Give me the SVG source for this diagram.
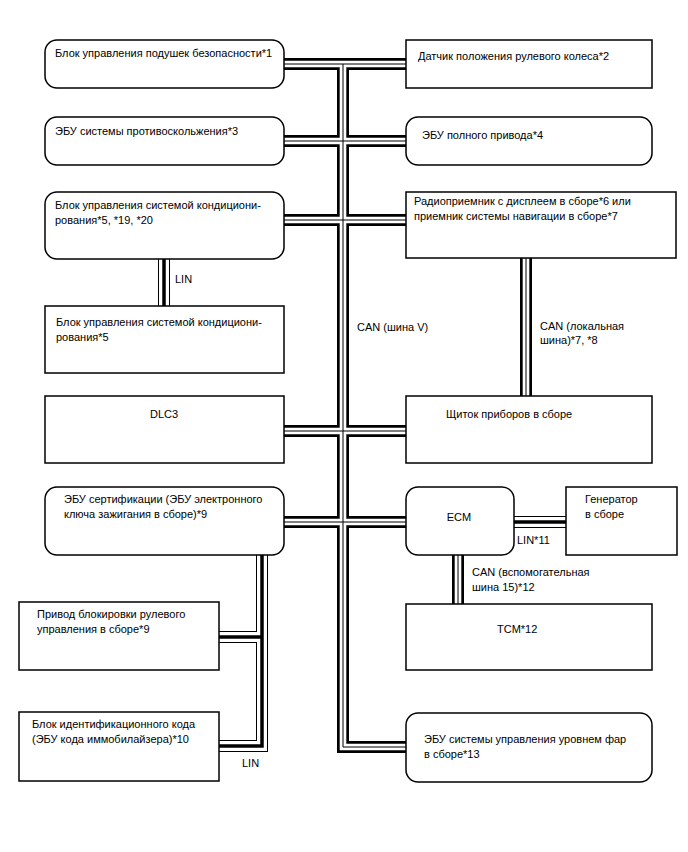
<svg xmlns="http://www.w3.org/2000/svg" xmlns:xlink="http://www.w3.org/1999/xlink" width="688" height="852" viewBox="0 0 688 852">
<style>
.box{fill:#fff;stroke:#000;stroke-width:1.5}
.t{font-family:"Liberation Sans",Arial,sans-serif;font-size:11px;fill:#000}
.canO{fill:none;stroke:#000;stroke-width:12;stroke-linejoin:miter}
.canW{fill:none;stroke:#fff;stroke-width:6.6;stroke-linejoin:miter}
.canC{fill:none;stroke:#000;stroke-width:1;stroke-linejoin:miter}
.linO{fill:none;stroke:#000;stroke-width:12;stroke-linejoin:miter}
.linW{fill:none;stroke:#fff;stroke-width:10;stroke-linejoin:miter}
.linC{fill:none;stroke:#000;stroke-width:3.5;stroke-linejoin:miter}
</style>
<defs>
<path id="c1" d="M284,64 H406"/>
<path id="cV" d="M343,64 V747 H406"/>
<path id="c2" d="M284,141 H406"/>
<path id="c3" d="M284,220 H406"/>
<path id="c4" d="M284,431 H406"/>
<path id="c5" d="M284,522 H406"/>
<path id="cL" d="M526,258 V396"/>
<path id="cT" d="M458,555 V604"/>
<path id="l1" d="M164,259 V306"/>
<path id="l2" d="M514,522 H566"/>
<path id="l3" d="M262,555 V746 H219"/>
<path id="l4" d="M262,637 H219"/>
</defs>
<rect width="688" height="852" fill="#fff"/>
<g id="connectors">
<g class="canO"><use xlink:href="#c1"/><use xlink:href="#cV"/><use xlink:href="#c2"/><use xlink:href="#c3"/><use xlink:href="#c4"/><use xlink:href="#c5"/><use xlink:href="#cL"/><use xlink:href="#cT"/></g>
<g class="canW"><use xlink:href="#c1"/><use xlink:href="#cV"/><use xlink:href="#c2"/><use xlink:href="#c3"/><use xlink:href="#c4"/><use xlink:href="#c5"/><use xlink:href="#cL"/><use xlink:href="#cT"/></g>
<g class="canC"><use xlink:href="#c1"/><use xlink:href="#cV"/><use xlink:href="#c2"/><use xlink:href="#c3"/><use xlink:href="#c4"/><use xlink:href="#c5"/><use xlink:href="#cL"/><use xlink:href="#cT"/></g>
<g class="linO"><use xlink:href="#l1"/><use xlink:href="#l2"/><use xlink:href="#l3"/><use xlink:href="#l4"/></g>
<g class="linW"><use xlink:href="#l1"/><use xlink:href="#l2"/><use xlink:href="#l3"/><use xlink:href="#l4"/></g>
<g class="linC"><use xlink:href="#l1"/><use xlink:href="#l2"/><use xlink:href="#l3"/><use xlink:href="#l4"/></g>
<text class="t" x="175" y="283">LIN</text>
<text class="t" x="357" y="331">CAN (шина V)</text>
<text class="t" x="540" y="330">CAN (локальная</text>
<text class="t" x="540" y="344">шина)*7, *8</text>
<text class="t" x="517" y="544">LIN*11</text>
<text class="t" x="472" y="576">CAN (вспомогательная</text>
<text class="t" x="472" y="591">шина 15)*12</text>
<text class="t" x="242" y="767">LIN</text>
</g>
<g id="airbag"><rect class="box" x="45" y="40" width="239" height="48" rx="12"/><text class="t" x="55" y="57">Блок управления подушек безопасности*1</text></g>
<g id="steering-sensor"><rect class="box" x="406" y="40" width="246" height="48"/><text class="t" x="418" y="60">Датчик положения рулевого колеса*2</text></g>
<g id="abs-ecu"><rect class="box" x="45" y="117" width="239" height="48" rx="12"/><text class="t" x="55" y="135">ЭБУ системы противоскольжения*3</text></g>
<g id="awd-ecu"><rect class="box" x="406" y="117" width="246" height="48" rx="12"/><text class="t" x="422" y="139">ЭБУ полного привода*4</text></g>
<g id="ac-1"><rect class="box" x="45" y="192" width="239" height="67" rx="12"/><text class="t" x="55" y="209">Блок управления системой кондициони-</text><text class="t" x="55" y="224">рования*5, *19, *20</text></g>
<g id="radio"><rect class="box" x="406" y="192" width="270" height="66"/><text class="t" x="414" y="205">Радиоприемник с дисплеем в сборе*6 или</text><text class="t" x="414" y="220">приемник системы навигации в сборе*7</text></g>
<g id="ac-2"><rect class="box" x="45" y="306" width="239" height="67"/><text class="t" x="56" y="326">Блок управления системой кондициони-</text><text class="t" x="56" y="341">рования*5</text></g>
<g id="dlc3"><rect class="box" x="45" y="396" width="239" height="67"/><text class="t" x="150" y="418">DLC3</text></g>
<g id="cluster"><rect class="box" x="406" y="396" width="246" height="67"/><text class="t" x="446" y="418">Щиток приборов в сборе</text></g>
<g id="cert-ecu"><rect class="box" x="45" y="487" width="239" height="68" rx="12"/><text class="t" x="64" y="503">ЭБУ сертификации (ЭБУ электронного</text><text class="t" x="64" y="518">ключа зажигания в сборе)*9</text></g>
<g id="ecm"><rect class="box" x="406" y="487" width="108" height="68" rx="12"/><text class="t" x="459" y="521" text-anchor="middle">ECM</text></g>
<g id="generator"><rect class="box" x="566" y="487" width="111" height="68"/><text class="t" x="585" y="503">Генератор</text><text class="t" x="585" y="518">в сборе</text></g>
<g id="tcm"><rect class="box" x="406" y="604" width="246" height="66"/><text class="t" x="497" y="633">TCM*12</text></g>
<g id="steering-lock"><rect class="box" x="19" y="602" width="200" height="68"/><text class="t" x="37" y="618">Привод блокировки рулевого</text><text class="t" x="37" y="633">управления в сборе*9</text></g>
<g id="immobilizer"><rect class="box" x="19" y="712" width="200" height="69"/><text class="t" x="32" y="728">Блок идентификационного кода</text><text class="t" x="32" y="743">(ЭБУ кода иммобилайзера)*10</text></g>
<g id="headlamp-ecu"><rect class="box" x="406" y="713" width="246" height="69" rx="12"/><text class="t" x="424" y="743">ЭБУ системы управления уровнем фар</text><text class="t" x="424" y="758">в сборе*13</text></g>
</svg>
